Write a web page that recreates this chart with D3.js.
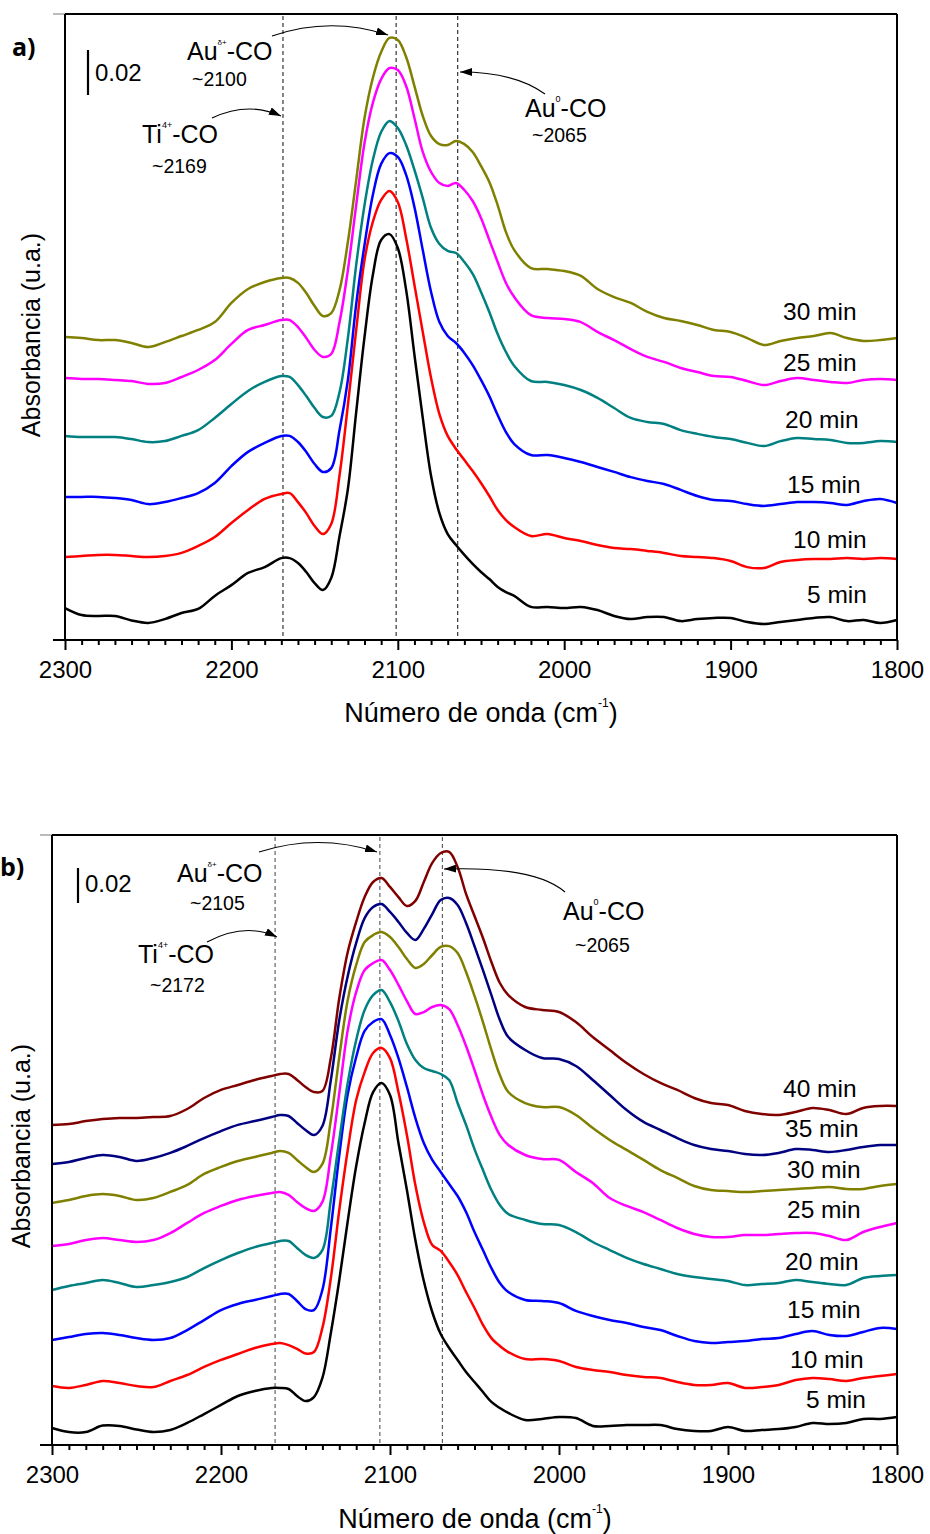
<!DOCTYPE html>
<html><head><meta charset="utf-8">
<script src="https://cdn.jsdelivr.net/npm/d3@7"></script>
<style>
body{margin:0;background:#fff;}
svg{display:block;font-family:"Liberation Sans", Arial, Helvetica, sans-serif;}
</style></head><body>
<svg id="chart" width="930" height="1534"></svg>
<script>
// ---------- DATA (absorbance x 10^3, stacked spectra as plotted) ----------
const wavenumbers = [2300,2290,2280,2270,2260,2250,2240,2230,2220,2210,2200,2190,2180,2170,
 2165,2160,2155,2150,2145,2140,2135,2130,2125,2120,2115,2110,2105,2100,2095,2090,2085,2080,2075,2070,2065,2060,2055,2050,2045,2040,2035,2030,
 2020,2010,2000,1990,1980,1970,1960,1950,1940,1930,1920,1910,1900,1890,1880,1870,1860,1850,1840,1830,1820,1810,1800];

// Panel a)
const a05 = [14.2,11.1,10.7,10.7,8.7,7.6,9.3,12,13.8,19.6,24.4,29.8,32.4,36.4,
 36.4,34.2,30.2,25.3,22.2,27.6,46.2,67.1,101.3,134.7,162.2,177.8,180.4,174.2,155.6,126.7,98.7,72.9,56.4,47.1,42.2,37.8,33.8,30.2,27.1,23.6,21.3,19.6,
 14.7,14.7,14.2,14.7,13.3,10.7,9.3,10.2,10.2,8.4,9.3,9.8,9.8,8,7.1,8,8.9,9.8,10.2,8.4,8.9,7.6,8.9];
const a10 = [36.9,37.3,37.8,37.8,37.3,36.9,37.3,38.7,41.8,45.8,52,57.8,62.7,64.9,
 65.3,61.3,56.4,50.7,47.1,51.6,73.3,104.4,137.8,168.9,185.8,195.6,199.6,194.7,178.7,157.8,136.9,116.4,100.4,90.7,84.9,80,75.1,69.8,64,57.8,53.3,50.2,
 46.2,47.1,45.3,44,42.2,40.9,40.4,39.6,38.7,37.3,36.9,36.4,35.1,32.4,32,34.7,35.6,36,36,36.4,36,36.4,36];
const a15 = [63.6,63.6,63.6,63.1,62.2,60.4,61.3,63.1,65.3,69.8,77.3,83.6,87.6,90.7,
 90.7,88,83.6,78.2,74.7,76.4,93.3,115.6,149.3,175.6,197.8,211.6,216.4,214.7,206.7,192.4,173.3,154.7,141.3,135.1,132,127.6,122.2,115.6,108.4,100,92.4,87.1,
 82.2,82.2,80.9,79.1,76.9,74.7,72.4,70.7,69.3,66.7,64,62.2,61.8,60.4,59.6,60.4,61.3,61.3,60.9,60,61.8,62.7,60.9];
const a20 = [90.7,90.2,90.2,90.2,89.3,88,88.4,90.7,93.3,98.7,104.9,110.7,114.7,117.3,
 116.9,113.3,108.4,103.1,99.1,99.6,110.2,134.2,166.7,193.3,213.3,225.8,230.7,227.6,220,208.9,196.4,183.1,176,172.9,172,168,162.7,154.7,145.8,136,128,121.8,
 115.1,114.7,113.3,111.1,107.6,103.1,98.7,96.9,96,93.3,91.6,90.2,89.3,87.6,86.2,88.4,89.8,89.3,88.9,87.6,87.6,88.4,88];
const a25 = [116.4,116,116,115.6,115.1,113.8,114.2,116.9,120,124.4,131.6,137.8,140,142.2,
 142.2,139.1,134.2,128.9,125.8,127.1,141.3,164.4,193.3,220.9,238.7,249.3,254.2,253.3,246.2,232,216.9,208,203.1,201.8,203.1,200,195.1,187.6,177.8,168,158.7,152.4,
 144.4,143.1,142.7,141.3,136.9,133.3,129.3,125.8,123.6,120.9,119.1,117.3,116.9,115.1,113.3,115.1,116.4,115.6,114.7,114.2,115.6,116,115.6];
const a30 = [134.7,134.2,133.3,133.3,132,130.2,132.4,135.1,137.8,141.3,149.8,156,159.1,160.9,
 160.9,158.7,154.2,148.4,144,145.3,155.6,176.9,204.4,232,249.8,261.3,267.6,266.7,259.1,246.2,232.9,224,220.4,220,221.8,220.4,216.9,210.7,203.6,193.3,181.3,173.3,
 165.3,164.9,164,161.8,156,152.4,149.8,145.8,143.1,141.8,140,137.8,136.9,134.2,131.1,132.9,134.2,135.1,136.4,134.2,132.9,133.3,134.2];

// Panel b)
const b05 = [9.7,7.4,7.4,11.1,10.9,8.9,7.4,8.6,12.6,17.7,22.9,28,30.9,32.6,
 32.6,32,28,25.1,27.4,38.3,64,94.3,128,159.4,184,201.7,206.9,200,172.6,145.7,117.1,93.7,76,63.4,55.4,48.6,41.7,36,30.3,24.6,21.1,18.3,
 14.3,14.9,16,15.4,10.9,10.9,11.4,11.4,11.4,9.1,8,8,10.3,8,8.6,9.1,10.3,12.6,12,12.6,14.9,14.9,16];
const b10 = [33.7,32.6,34.3,36.6,35.4,33.7,33.1,36.6,40,44.6,48.6,52,55.4,57.7,
 58.3,57.1,54.9,52.3,53.1,66.9,95.4,134.3,168.6,197.1,213.1,224,226.9,221.1,201.7,177.1,148.6,127.4,114.3,110.9,104.6,97.1,87.4,78.3,68.6,61.1,56.6,53.1,
 49.1,49.1,48,44.6,42.9,41.7,40,38.9,38.3,36,34.3,34.3,35.4,32.6,33.1,34.3,37.1,38.3,37.7,36.6,38.3,39.4,40.6];
const b15 = [60,61.7,63.4,64,62.9,61.1,60,61.1,65.7,71.4,77.1,80.6,82.9,85.1,
 86.3,86.3,82.3,77.7,77.1,88.6,124,165.7,200.6,221.7,236.6,241.7,243.4,234.3,221.1,204.6,186.9,172.6,162.9,156,149.1,142.3,133.1,121.7,111.4,101.1,92.6,87.4,
 82.9,82.3,81.1,76.6,73.7,71.4,69.7,67.4,65.7,62.3,59.4,58.3,58.9,59.4,60.6,61.1,63.4,65.1,62.9,62.3,64.6,66.9,66.3];
const b20 = [88.6,90.9,92.6,94.3,92.6,90.3,91.4,93.1,96,101.1,105.7,109.7,113.1,115.4,
 116.6,116.6,112.6,108.6,106.9,111.4,140,174.3,206.9,231.4,248.6,257.1,260,253.1,242.3,229.1,220,215.4,213.7,212,208.6,195.4,182.9,169.1,157.1,145.7,137.1,132,
 128.6,126.3,125.7,121.7,116,111.4,106.9,103.4,100.6,97.7,96,94.9,93.7,91.4,92,92.6,94.3,93.1,92,91.4,95.4,96.6,97.1];
const b25 = [113.7,114.9,117.1,118.3,117.1,116,117.1,121.1,126.9,132.6,136.6,140,142.3,144,
 144.6,142.9,138.9,135.4,133.7,138.9,165.7,201.1,237.1,258.9,271.4,275.4,277.1,271.4,262.9,253.7,246.3,247.4,250.3,251.4,249.1,240,228,214.3,200,187.4,177.1,171.4,
 165.7,163.4,162.9,156,149.7,141.1,136.6,133.1,128.6,124,120.6,118.9,118.9,120,120,120.6,121.1,121.1,119.4,117.1,121.7,124.6,126.9];
const b30 = [138.3,140,142.3,143.4,142.3,140,141.1,144.6,148.6,154.9,158.9,162.3,164.6,166.9,
 168,166.9,162.9,158.9,156,160.6,185.7,221.7,254.3,274.3,287.4,291.4,293.1,290.3,284.6,277.7,272.6,274.9,280,284.6,285.1,281.1,270.3,256.6,241.7,225.7,211.4,201.7,
 195.4,193.1,193.1,188.6,181.1,174.3,168.6,162.9,157.1,152.6,148,145.7,145.1,144.6,145.1,145.7,146.3,146.9,147.4,146.3,146.3,148,149.1];
const b35 = [160.6,161.7,164,165.7,164.6,162.3,164,166.9,170.9,175.4,179.4,182.9,185.1,187.4,
 188.6,188,184,180,177.1,182.3,208.6,242.9,268,286.9,301.1,307.4,309.1,304.6,298.9,292.6,288.6,294.9,303.4,311.4,312.6,308.6,298.3,285.1,271.4,257.1,242.9,233.1,
 225.7,221.1,220.6,216.6,208.6,200,191.4,184.6,180,175.4,171.4,169.1,168,166.3,165.7,166.9,169.1,168.6,167.4,168.6,170.3,171.4,171.4];
const b40 = [182.9,183.4,185.1,186.3,186.9,186.9,187.4,188,192,198.3,202.9,205.7,208.6,210.9,
 212,212,208.6,204.6,201.7,202.3,221.1,255.4,281.7,298.9,313.1,321.7,324,318.9,313.1,308,310.9,321.7,332.6,338.3,338.9,330.3,314.9,302.3,289.7,276,264,257.1,
 250.3,248.6,247.4,241.7,233.1,225.7,218.3,212,206.9,202.9,198.3,195.4,194.3,190.9,189.1,188.6,190.3,192.6,191.4,189.1,192.6,193.7,193.7];

const labelsA = ["5 min","10 min","15 min","20 min","25 min","30 min"];
const labelsB = ["5 min","10 min","15 min","20 min","25 min","30 min","35 min","40 min"];
const colorsB = ["#000000","#ff0000","#0000ff","#008080","#ff00ff","#808000","#000080","#800000"];
const colorsA = colorsB.slice(0,6);
const majorTicks = [2300,2200,2100,2000,1900,1800];
const minorTicks = d3.range(1800,2301,10).filter(v => v % 100 !== 0);
const bandsA = [2169,2101,2064];
const bandsB = [2168,2106,2069];
const scaleBarValue = 20; // x10^-3 -> 0.02

// ---------- DRAW ----------
const svg = d3.select("#chart");
const defs = svg.append("defs");
defs.append("marker").attr("id","arr").attr("viewBox","0 0 12 8")
  .attr("refX",12).attr("refY",4).attr("markerWidth",12).attr("markerHeight",8)
  .attr("markerUnits","userSpaceOnUse").attr("orient","auto")
  .append("path").attr("d","M0,0 L12,4 L0,8 Z").attr("fill","#000");

function supText(g, x, y, parts) {
  // parts: [text, size, dy]
  const t = g.append("text").attr("x",x).attr("y",y).attr("fill","#000");
  parts.forEach(p => t.append("tspan").text(p[0]).attr("font-size",p[1]).attr("dy",p[2]));
  return t;
}

function drawPanel(p) {
  const g = svg.append("g");
  const x = d3.scaleLinear().domain([2300,1800]).range([p.left,p.right]);
  const y = d3.scaleLinear().domain([0,p.yMax]).range([p.bottom,p.top]);

  // band markers
  p.bands.forEach(b => g.append("line")
    .attr("x1",x(b)).attr("x2",x(b)).attr("y1",p.top+2).attr("y2",p.bottom)
    .attr("stroke",p.dashColor).attr("stroke-width",1.1).attr("stroke-dasharray","4,3"));

  // spectra
  const line = d3.line().x((d,i) => x(wavenumbers[i])).y(d => y(d))
    .curve(d3.curveCatmullRom.alpha(0.5));
  p.series.forEach((s,i) => g.append("path").attr("d",line(s))
    .attr("fill","none").attr("stroke",p.colors[i]).attr("stroke-width",2.5)
    .attr("stroke-linejoin","round"));

  // frame
  g.append("line").attr("x1",p.left-12).attr("x2",p.left).attr("y1",p.top).attr("y2",p.top)
    .attr("stroke","#bbb").attr("stroke-width",2);
  g.append("line").attr("x1",p.left).attr("x2",p.right).attr("y1",p.top).attr("y2",p.top)
    .attr("stroke","#000").attr("stroke-width",2);
  g.append("line").attr("x1",p.left).attr("x2",p.left).attr("y1",p.top).attr("y2",p.bottom)
    .attr("stroke","#000").attr("stroke-width",2);
  g.append("line").attr("x1",p.right).attr("x2",p.right).attr("y1",p.top).attr("y2",p.bottom)
    .attr("stroke","#000").attr("stroke-width",2);
  g.append("line").attr("x1",p.left-12).attr("x2",p.right).attr("y1",p.bottom).attr("y2",p.bottom)
    .attr("stroke","#000").attr("stroke-width",2);

  // axis
  const ax = g.append("g").attr("transform",`translate(0,${p.bottom})`)
    .call(d3.axisBottom(x).tickValues(majorTicks).tickFormat(d3.format("d"))
      .tickSize(10).tickSizeOuter(0).tickPadding(11));
  ax.select(".domain").remove();
  ax.selectAll(".tick line").attr("stroke-width",2);
  ax.selectAll(".tick text").attr("font-size",24).attr("font-family","Liberation Sans, Arial, sans-serif").attr("fill","#000");
  const axm = g.append("g").attr("transform",`translate(0,${p.bottom})`)
    .call(d3.axisBottom(x).tickValues(minorTicks).tickFormat("").tickSize(5).tickSizeOuter(0));
  axm.select(".domain").remove();
  axm.selectAll(".tick line").attr("stroke-width",2);

  // axis titles
  const xt = g.append("text").attr("x",p.xTitleX).attr("y",p.xTitleY)
    .attr("text-anchor","middle").attr("font-size",27).attr("fill","#000");
  xt.append("tspan").text("Número de onda (cm");
  xt.append("tspan").text("-1").attr("font-size",12).attr("dy",-15);
  xt.append("tspan").text(")").attr("dy",15);
  g.append("text").attr("transform",`translate(${p.yTitleX},${p.yTitleY}) rotate(-90)`)
    .attr("text-anchor","middle").attr("font-size",25).attr("fill","#000")
    .text("Absorbancia (u.a.)");

  // panel letter
  g.append("text").attr("x",p.letterX).attr("y",p.letterY).attr("font-size",25)
    .attr("font-weight","bold").attr("font-family","Open Sans, Liberation Sans, sans-serif")
    .text(p.letter);

  // scale bar
  const barH = y(0) - y(scaleBarValue);
  g.append("line").attr("x1",p.barX).attr("x2",p.barX).attr("y1",p.barTop).attr("y2",p.barTop+barH)
    .attr("stroke","#000").attr("stroke-width",2.2);
  g.append("text").attr("x",p.barX+7).attr("y",p.barTop+barH*0.68).attr("font-size",24)
    .text(d3.format(".2f")(scaleBarValue/1000));

  // series labels
  p.labels.forEach((l,i) => g.append("text").attr("x",p.labelPos[i][0]).attr("y",p.labelPos[i][1])
    .attr("font-size",24.5).attr("fill","#000").text(l));

  // annotations
  p.notes.forEach(n => {
    supText(g, n.x, n.y, [[n.main,25,0],[n.sup,n.supSize,-15],["-CO",25,15]]);
    g.append("text").attr("x",n.wx).attr("y",n.wy).attr("font-size",19.5).text(n.wave);
  });
  p.arrows.forEach(a => g.append("path").attr("d",a).attr("fill","none")
    .attr("stroke","#000").attr("stroke-width",1.1).attr("marker-end","url(#arr)"));
}

drawPanel({
  left:65, right:897, top:14, bottom:640, yMax:(640-14)/2.25,
  series:[a05,a10,a15,a20,a25,a30], colors:colorsA, labels:labelsA,
  labelPos:[[807,603],[793,548],[787,493],[785,428],[783,371],[783,320]],
  bands:bandsA, dashColor:"#222",
  xTitleX:481, xTitleY:722, yTitleX:40, yTitleY:335,
  letter:"a)", letterX:12, letterY:56,
  barX:88, barTop:50,
  notes:[
    {main:"Au", sup:"δ+", supSize:8, x:187, y:60, wave:"~2100", wx:192, wy:86},
    {main:"Ti", sup:"4+", supSize:9, x:142, y:143, wave:"~2169", wx:152, wy:173},
    {main:"Au", sup:"0", supSize:9, x:525, y:117, wave:"~2065", wx:532, wy:142}
  ],
  arrows:["M212,118 Q248,101 281,116","M272,36 Q330,16 388,35","M545,94 Q515,72 460,72"]
});

drawPanel({
  left:52, right:897, top:835, bottom:1445, yMax:(1445-835)/1.75,
  series:[b05,b10,b15,b20,b25,b30,b35,b40], colors:colorsB, labels:labelsB,
  labelPos:[[806,1408],[790,1368],[787,1318],[785,1270],[787,1218],[787,1178],[785,1137],[783,1097]],
  bands:bandsB, dashColor:"#555",
  xTitleX:475, xTitleY:1528, yTitleX:30, yTitleY:1146,
  letter:"b)", letterX:0, letterY:876,
  barX:78, barTop:868,
  notes:[
    {main:"Au", sup:"δ+", supSize:8, x:177, y:882, wave:"~2105", wx:190, wy:910},
    {main:"Ti", sup:"4+", supSize:9, x:138, y:963, wave:"~2172", wx:150, wy:992},
    {main:"Au", sup:"0", supSize:9, x:563, y:920, wave:"~2065", wx:575, wy:952}
  ],
  arrows:["M207,942 Q245,922 277,937","M259,852 Q318,833 377,852","M565,892 Q535,866 444,869"]
});
</script>
</body></html>
